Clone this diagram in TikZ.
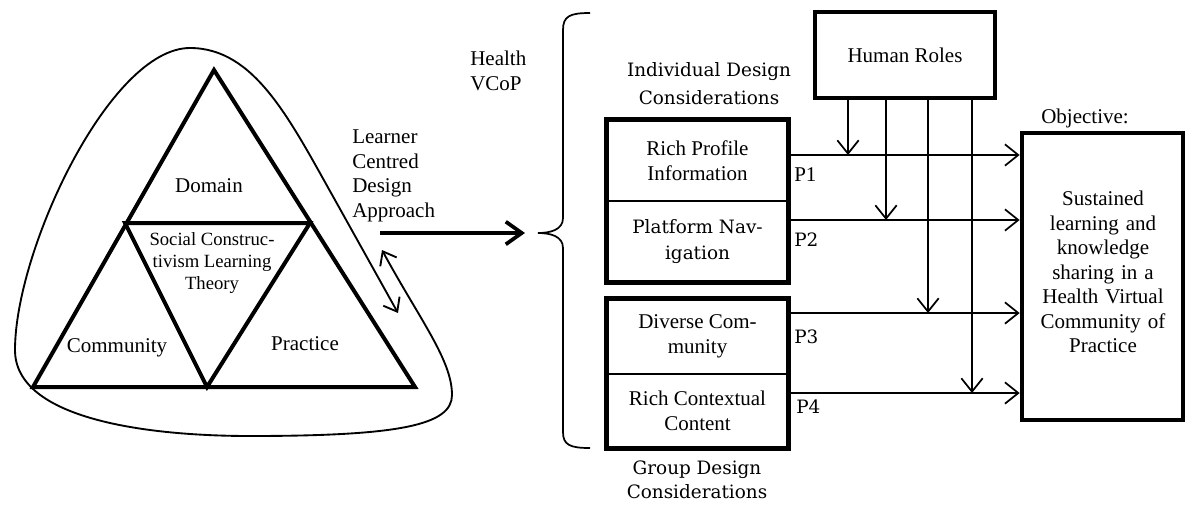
\documentclass[tikz,border=0pt]{standalone}
\usepackage{fontspec}
\setmainfont{Liberation Serif}
\newfontfamily\cambria{DejaVu Serif}
\usetikzlibrary{arrows.meta}

\begin{document}
\begin{tikzpicture}[x=0.75pt,y=-0.75pt,
  txt/.style={font=\fontsize{15.75}{18.4}\selectfont, align=center, inner sep=0pt},
  small/.style={font=\fontsize{14}{16.3}\selectfont, align=center, inner sep=0pt},
  cam/.style={font=\cambria\fontsize{13.8}{19}\selectfont, align=center, inner sep=0pt},
  cell/.style={draw, line width=1.2pt, minimum width=135.75pt, inner sep=0pt},
  frame/.style={draw, line width=3.5pt, inner sep=0pt},
  tri/.style={line width=3pt},
  flow/.style={line width=1.3pt, -{Straight Barb[length=10pt,width=16pt]}},
]
\useasboundingbox (0,0) rectangle (1185,504);

\begin{scope} % LEFT TRIANGLE
\coordinate (apex) at (214,70);
\coordinate (bl) at (33,387);
\coordinate (br) at (415,387);
\coordinate (ml) at (125,223);
\coordinate (mr) at (310,223);
\coordinate (mb) at (207,387);
\draw[tri] (apex) -- (br) -- (bl) -- cycle;
\draw[tri] (ml) -- (mr) -- (mb) -- cycle;

\node[txt] (domain) at (209,186) {Domain};
\node[small] (sclt) at (212,263) {Social Construc-\\tivism Learning\\Theory};
\node[txt] (community) at (117,348) {Community};
\node[txt] (practice) at (305,344) {Practice};

% loop round the triangle
\draw[line width=1.4pt, {Straight Barb[length=9pt,width=14pt]}-{Straight Barb[length=9pt,width=14pt]}]
  (382,250) .. controls (420,320) and (452,360) .. (452,395)
  .. controls (452,425) and (400,436) .. (250,436)
  .. controls (150,436) and (15,420) .. (15,350)
  .. controls (15,250) and (110,48) .. (190,48)
  .. controls (255,48) and (290,120) .. (335,200) -- (398,313);
\end{scope}

\begin{scope} % MIDDLE
\node[txt, anchor=west, align=left] (lcd) at (352,176) {Learner\\Centred\\Design\\Approach};
\node[txt, anchor=west, align=left] (vcop) at (470,71) {Health\\VCoP};
\coordinate (arrowstart) at (380,233);
\coordinate (bracetip) at (538,233);
\draw[line width=2.8pt, -{Straight Barb[length=12pt,width=17pt]}] (arrowstart) -- ([xshift=-9.75pt]bracetip);

% brace
\draw[line width=1.3pt] (590,13) .. controls (570,13) and (563,16) .. (563,30) -- (563,218)
  .. controls (563,230) and (550,233) .. (bracetip)
  .. controls (550,233) and (563,236) .. (563,248) -- (563,432)
  .. controls (563,445) and (570,448) .. (590,448);
\end{scope}

\begin{scope} % DESIGN CONSIDERATIONS
\node[cam, font=\cambria\fontsize{13.8}{21}\selectfont] (indiv) at (709,84) {Individual Design\\Considerations};
\node[cell, minimum height=60.75pt, txt] (rich) at (697.5,160.5) {Rich Profile\\Information};
\node[cell, minimum height=60.75pt, cam, font=\cambria\fontsize{13.8}{19.5}\selectfont] (nav) at (697.5,241.5) {Platform Nav-\\igation};
\draw[frame] (rich.north west) rectangle (nav.south east);

\node[cell, minimum height=56.25pt, txt] (diverse) at (697.5,336.5) {Diverse Com-\\munity};
\node[cell, minimum height=55.5pt, txt] (context) at (697.5,411) {Rich Contextual\\Content};
\draw[frame] (diverse.north west) rectangle (context.south east);
\node[cam, font=\cambria\fontsize{13.8}{18}\selectfont] (group) at (697,480) {Group Design\\Considerations};
\end{scope}

\begin{scope} % RIGHT SIDE
\node[frame, txt, minimum width=135pt, minimum height=64.5pt] (roles) at (905,55) {Human Roles};
\node[frame, minimum width=120.75pt, minimum height=215.25pt] (obj) at (1102.5,276.5) {};
\node[txt, text width=110pt] (objtext) at (1103,272) {Sustained\\learning and\\knowledge\\sharing in a\\Health Virtual\\Community of\\Practice};
\node[txt] (objlabel) at (1085,118) {Objective:};

\coordinate (p1) at (788,155);
\coordinate (p2) at (788,220);
\coordinate (p3) at (788,313);
\coordinate (p4) at (788,393);
\node[txt, anchor=west] (lp1) at (794,175) {P1};
\node[cam, anchor=west] (lp2) at (794,240) {P2};
\node[cam, anchor=west] (lp3) at (794,337) {P3};
\node[cam, anchor=west] (lp4) at (796,407) {P4};

\foreach \p in {p1,p2,p3,p4}
  \draw[flow] (\p) -- (\p -| obj.west);

\foreach \x/\p in {848/p1,886/p2,928/p3,972/p4}{
  \coordinate (v) at (\x,0);
  \draw[flow] (roles.south -| v) -- (v |- \p);
}
\end{scope}
\end{tikzpicture}
\end{document}
